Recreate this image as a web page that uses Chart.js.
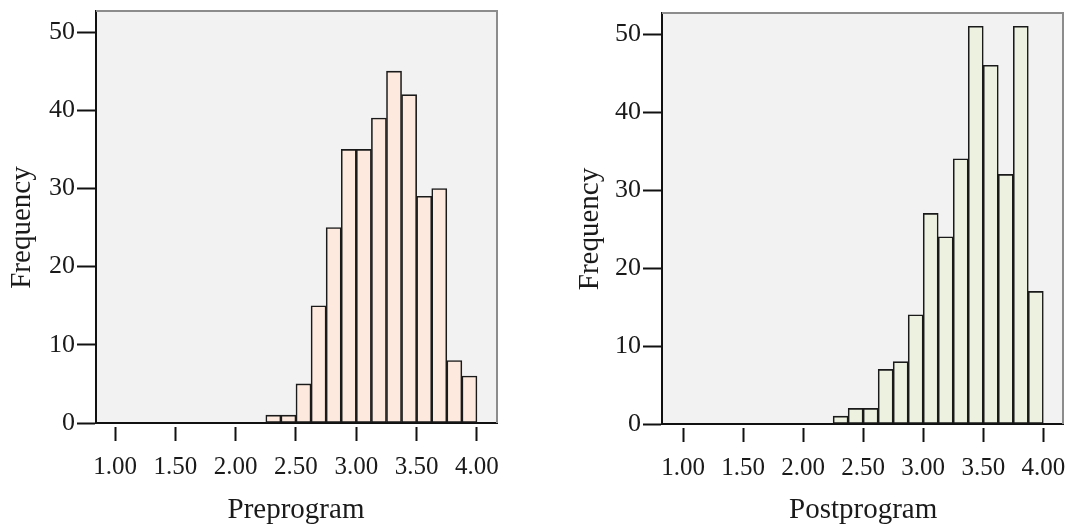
<!DOCTYPE html>
<html>
<head>
<meta charset="utf-8">
<script src="https://cdn.jsdelivr.net/npm/chart.js@4/dist/chart.umd.min.js"></script>
<style>
  body { margin: 0; background: #ffffff; }
  canvas { position: absolute; top: 0; }
  #preChart { left: 0px; }
  #postChart { left: 540px; }
</style>
</head>
<body>
<canvas id="preChart" width="540" height="527"></canvas>
<canvas id="postChart" width="531" height="527"></canvas>
<script>
// histogram bins (lower edges), all bins are 0.125 wide
const binStarts = [2.25, 2.375, 2.5, 2.625, 2.75, 2.875, 3.0, 3.125, 3.25, 3.375, 3.5, 3.625, 3.75, 3.875];
const binWidth = 0.125;
const preFreq = [1, 1, 5, 15, 25, 35, 35, 39, 45, 42, 29, 30, 8, 6];
const postFreq = [1, 2, 2, 7, 8, 14, 27, 24, 34, 51, 46, 32, 51, 17];

const xTickValues = [1, 1.5, 2, 2.5, 3, 3.5, 4];
const xTickLabels = ['1.00', '1.50', '2.00', '2.50', '3.00', '3.50', '4.00'];
const yTickValues = [0, 10, 20, 30, 40, 50];
const yTickLabels = ['0', '10', '20', '30', '40', '50'];

const fontFamily = '"Liberation Serif", "Times New Roman", serif';
const textColor = '#1a1a1a';

// plot background, grey top/right frame, axis titles
const framePlugin = {
    id: 'frame',
    beforeDraw(chart, args, opts) {
        const a = chart.chartArea;
        const ctx = chart.ctx;
        ctx.save();
        ctx.fillStyle = '#f2f2f2';
        ctx.fillRect(a.left, a.top, a.right - a.left, a.bottom - a.top);
        ctx.restore();
    },
    afterDraw(chart, args, opts) {
        const a = chart.chartArea;
        const ctx = chart.ctx;
        const xs = chart.scales.x;
        const ys = chart.scales.y;
        ctx.save();
        ctx.strokeStyle = '#8c8c8c';
        ctx.lineWidth = 2;
        ctx.beginPath();
        ctx.moveTo(a.left, a.top);
        ctx.lineTo(a.right, a.top);
        ctx.lineTo(a.right, a.bottom);
        ctx.stroke();

        ctx.fillStyle = textColor;
        ctx.font = '29px ' + fontFamily;
        ctx.textAlign = 'center';
        ctx.textBaseline = 'alphabetic';
        const xMid = (xs.getPixelForValue(xTickValues[0]) + xs.getPixelForValue(xTickValues[xTickValues.length - 1])) / 2;
        ctx.fillText(opts.xTitle, xMid, opts.xTitleY);

        const yMid = (ys.getPixelForValue(yTickValues[0]) + ys.getPixelForValue(yTickValues[yTickValues.length - 1])) / 2;
        ctx.translate(opts.yTitleX, yMid);
        ctx.rotate(-Math.PI / 2);
        ctx.textBaseline = 'middle';
        ctx.fillText(opts.yTitle, 0, 0);
        ctx.restore();
    }
};

function makeHistogram(canvasId, freq, fill, box) {
    const points = binStarts.map((s, i) => ({ x: s + binWidth / 2, y: freq[i] }));
    return new Chart(document.getElementById(canvasId), {
        type: 'bar',
        data: {
            datasets: [{
                data: points,
                backgroundColor: fill,
                borderColor: '#1a1a1a',
                borderWidth: 1.6,
                borderSkipped: false,
                barPercentage: 1,
                categoryPercentage: 1
            }]
        },
        options: {
            responsive: false,
            animation: false,
            layout: { padding: { left: 0, top: box.top, right: box.right, bottom: 0 } },
            plugins: {
                legend: { display: false },
                tooltip: { enabled: false },
                frame: { xTitle: box.xTitle, yTitle: 'Frequency', xTitleY: 518, yTitleX: box.yTitleX }
            },
            scales: {
                x: {
                    type: 'linear',
                    min: box.xMin,
                    max: box.xMax,
                    offset: false,
                    afterBuildTicks: (scale) => { scale.ticks = xTickValues.map(v => ({ value: v })); },
                    afterFit: (scale) => { scale.height = box.xHeight; scale.paddingLeft = 0; scale.paddingRight = 0; },
                    border: { display: true, color: '#111111', width: 2 },
                    grid: {
                        offset: false,
                        drawOnChartArea: false,
                        drawTicks: true,
                        tickLength: 18,
                        tickWidth: 2,
                        tickColor: '#111111',
                        tickBorderDash: [15, 3],
                        tickBorderDashOffset: 15
                    },
                    ticks: {
                        color: textColor,
                        font: { family: fontFamily, size: 25 },
                        padding: 11,
                        maxRotation: 0,
                        autoSkip: false,
                        callback: (v, i) => xTickLabels[i]
                    }
                },
                y: {
                    type: 'linear',
                    min: 0,
                    max: 52.7,
                    afterBuildTicks: (scale) => { scale.ticks = yTickValues.map(v => ({ value: v })); },
                    afterFit: (scale) => { scale.width = box.yWidth; scale.paddingTop = 0; scale.paddingBottom = 0; },
                    border: { display: true, color: '#111111', width: 2 },
                    grid: {
                        drawOnChartArea: false,
                        drawTicks: true,
                        tickLength: 19,
                        tickWidth: 2,
                        tickColor: '#111111'
                    },
                    ticks: {
                        color: textColor,
                        font: { family: fontFamily, size: 26 },
                        padding: 2,
                        autoSkip: false,
                        callback: (v, i) => yTickLabels[i]
                    }
                }
            }
        },
        plugins: [framePlugin]
    });
}

makeHistogram('preChart', preFreq, '#fde9dd', {
    top: 11, right: 43, yWidth: 96, xHeight: 104,
    xMin: 0.8425, xMax: 4.166, xTitle: 'Preprogram', yTitleX: 22
});
makeHistogram('postChart', postFreq, '#ecf1e0', {
    top: 13, right: 8, yWidth: 122, xHeight: 103,
    xMin: 0.825, xMax: 4.164, xTitle: 'Postprogram', yTitleX: 50.5
});
</script>
</body>
</html>
